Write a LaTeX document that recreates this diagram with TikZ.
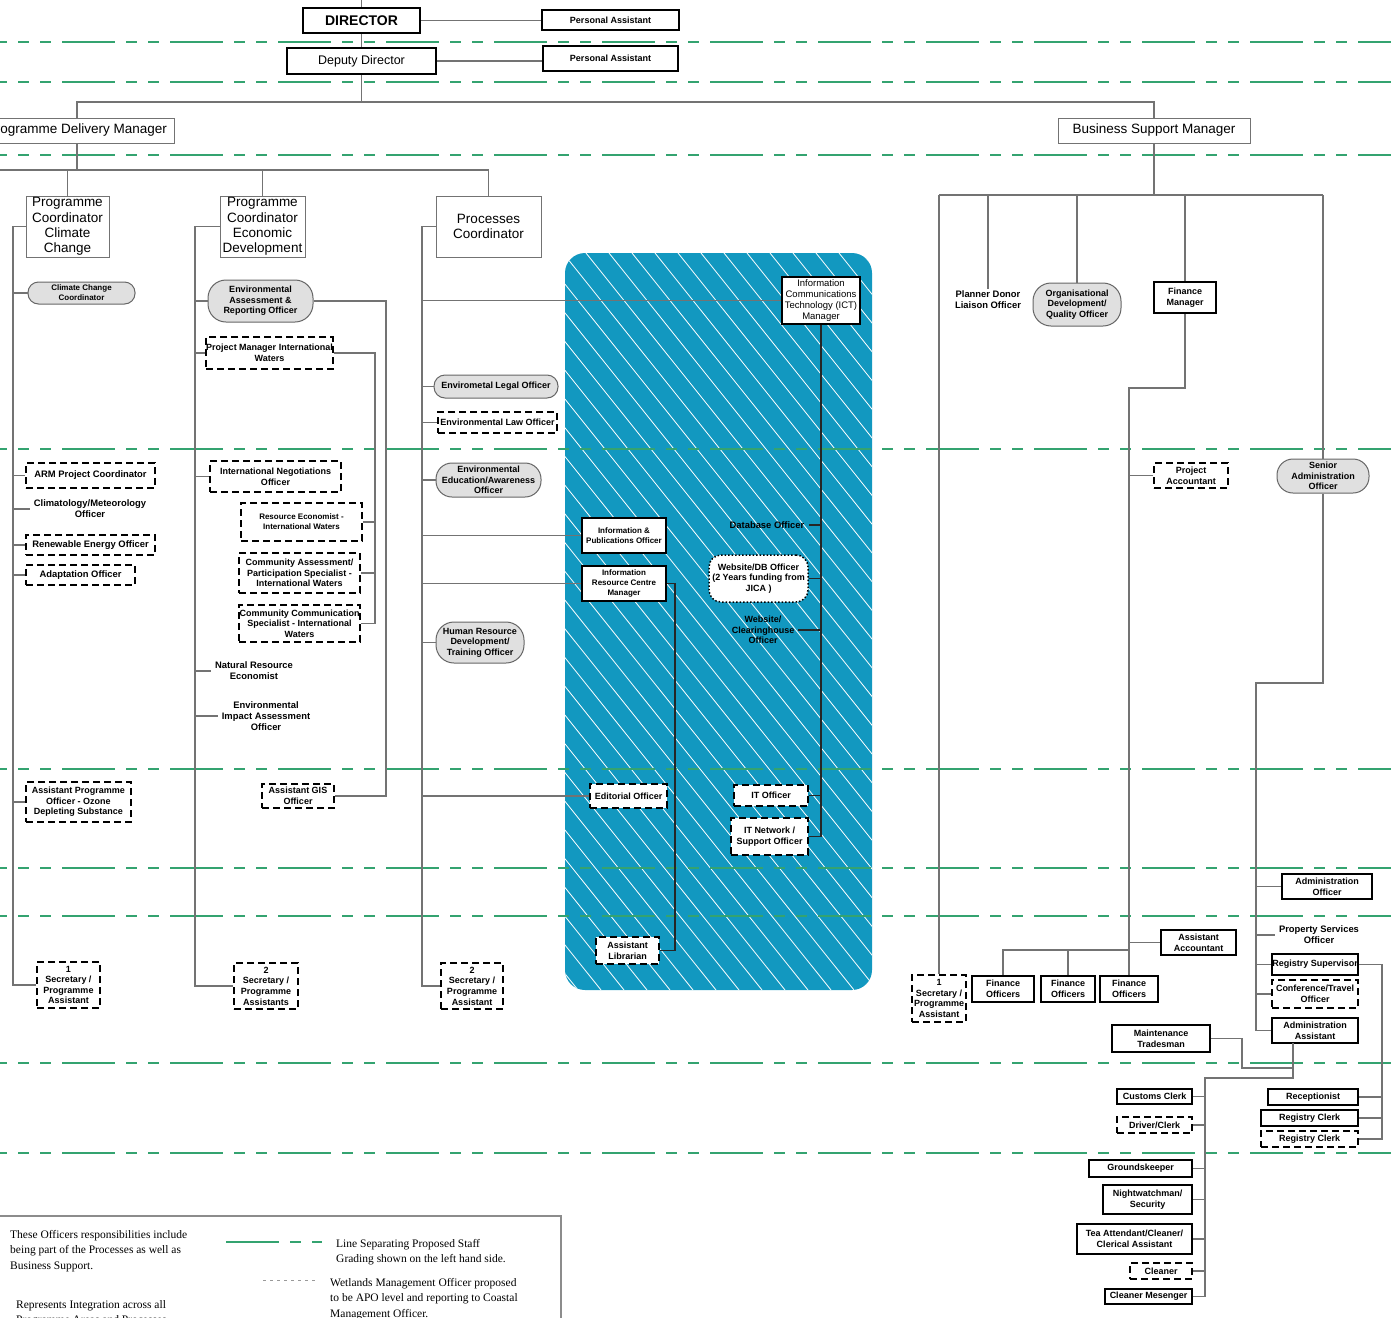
\documentclass[tikz,border=0pt]{standalone}
\usepackage{fontspec}
\setmainfont{Liberation Sans}
\newfontfamily\legfont{Liberation Serif}
\usetikzlibrary{calc}
\definecolor{lgreen}{RGB}{52,163,112}
\definecolor{bluereg}{RGB}{18,152,192}
\begin{document}
\begin{tikzpicture}[x=1pt,y=-1pt,
 conn/.style={draw=black!55, line width=1.1pt},
 connd/.style={draw=black!85, line width=1.1pt},
 gline/.style={draw=lgreen, line width=1.8pt, dash pattern=on 53pt off 11pt on 11pt off 11pt on 11pt off 11pt, dash phase=46pt},
 base/.style={inner sep=0pt, align=center, text=black},
 sz/.style 2 args={minimum width=#1pt, minimum height=#2pt},
 thinbox/.style={base, draw=black!55, line width=1pt, fill=white},
 thickbox/.style={base, draw=black, line width=2.2pt, fill=white},
 dbox/.style={base, draw=black, line width=1.5pt, dash pattern=on 7pt off 4pt, fill=white},
 pill/.style={base, draw=black!60, line width=1pt, fill=black!12, rounded corners=#1},
 pill/.default=10pt,
 dotbox/.style={base, draw=black, line width=1.5pt, dash pattern=on 1.5pt off 2pt, fill=white, rounded corners=12pt},
 plain/.style={base, inner xsep=4pt, inner ysep=2pt},
 fL/.style={font=\fontsize{13.5pt}{15.3pt}\selectfont},
 fR/.style={font=\fontsize{9.5pt}{11pt}\selectfont},
 fM/.style={font=\fontsize{9.4pt}{11pt}\selectfont\bfseries},
 fS/.style={font=\fontsize{9pt}{10.6pt}\selectfont\bfseries},
 fT/.style={font=\fontsize{8pt}{10pt}\selectfont\bfseries},
 fLeg/.style={font=\legfont\fontsize{11.5pt}{15.5pt}\selectfont},
 leg/.style={anchor=north west, inner sep=0pt, align=left, fLeg}
]
\useasboundingbox (0,0) rectangle (1391,1317);
\clip (0,0) rectangle (1391,1317);
\fill[white] (0,0) rectangle (1391,1317);

% blue integration region with hatching
\fill[bluereg, rounded corners=20pt] (565,253) rectangle (872,990);
\begin{scope}
\clip[rounded corners=20pt] (565,253) rectangle (872,990);
\foreach \s in {-600,-577,...,320} \draw[white, line width=0.8pt] ({\s+565},253) -- ++(590,737);
\end{scope}

% green grading lines
\foreach \yy in {42,82,155,449,769,868,916,1063,1153} \draw[gline] (0,\yy) -- (1391,\yy);

% ---------- nodes ----------
\node[thickbox, sz={117}{25}, font=\fontsize{14pt}{16pt}\selectfont\bfseries] (dir) at (361.5,20.5) {DIRECTOR};
\node[thickbox, sz={137}{20}, fS, line width=1.6pt] (pa1) at (610.5,20) {Personal Assistant};
\node[thickbox, sz={149}{26}, font=\fontsize{12.5pt}{14pt}\selectfont] (dep) at (361.5,61) {Deputy Director};
\node[thickbox, sz={135}{25}, fS] (pa2) at (610.5,58.5) {Personal Assistant};
\node[thinbox, sz={194}{25}, fL] (pdm) at (77,130.5) {Programme Delivery Manager};
\node[thinbox, sz={192}{25}, fL] (bsm) at (1154,130.5) {Business Support Manager};
\node[thinbox, sz={83}{61}, fL] (pc1) at (67.5,226.5) {Programme\\Coordinator\\Climate\\Change};
\node[thinbox, sz={85}{61}, fL] (pc2) at (262.5,226.5) {Programme\\Coordinator\\Economic\\Development};
\node[thinbox, sz={105}{61}, fL] (pc3) at (488.5,226.5) {Processes\\Coordinator};

% climate change column
\node[pill=10.5pt, sz={107}{22}, fT] (ccc) at (81.5,293) {Climate Change\\Coordinator};
\node[dbox, sz={129}{25}, fM] (arm) at (90.5,475.5) {ARM Project Coordinator};
\node[plain, fM] (clim) at (90,509) {Climatology/Meteorology\\Officer};
\node[dbox, sz={129}{20}, fM] (ren) at (90.5,545) {Renewable Energy Officer};
\node[dbox, sz={109}{20}, fM] (adap) at (80.5,575) {Adaptation Officer};
\node[dbox, sz={105}{40}, fS] (apo) at (78.5,802) {Assistant Programme\\Officer - Ozone\\Depleting Substance};
\node[dbox, sz={63}{46}, fS] (sec1) at (68.5,985) {1\\Secretary /\\Programme\\Assistant};

% economic development column
\node[pill=18pt, sz={105}{42}, fS] (eaar) at (260.5,301) {Environmental\\Assessment \&\\Reporting Officer};
\node[dbox, sz={125}{32}, fS] (pmiw) at (269.5,353) {Project Manager International\\Waters};
\node[dbox, sz={131}{31}, fS] (ino) at (275.5,476.5) {International Negotiations\\Officer};
\node[dbox, sz={121}{38}, fT] (reiw) at (301.5,522) {Resource Economist -\\International Waters};
\node[dbox, sz={121}{40}, fS] (capi) at (299.5,573) {Community Assessment/\\Participation Specialist -\\International Waters};
\node[dbox, sz={121}{37}, fS] (cciw) at (299.5,623.5) {Community Communication\\Specialist - International\\Waters};
\node[plain, fM] (nre) at (254,671) {Natural Resource\\Economist};
\node[plain, fM] (eiao) at (266,716) {Environmental\\Impact Assessment\\Officer};
\node[dbox, sz={72}{24}, fS] (agis) at (298,796) {Assistant GIS\\Officer};
\node[dbox, sz={64}{46}, fS] (sec2) at (266,986) {2\\Secretary /\\Programme\\Assistants};

% processes column
\node[pill=11pt, sz={124}{23}, fS] (elo) at (496,386.5) {Envirometal Legal Officer};
\node[dbox, sz={119}{21}, fS] (elawo) at (497.5,422.5) {Environmental Law Officer};
\node[pill=16pt, sz={105}{34}, fS] (eeao) at (488.5,480) {Environmental\\Education/Awareness\\Officer};
\node[thickbox, sz={84}{35}, fT] (ipo) at (624,535.5) {Information \&\\Publications Officer};
\node[thickbox, sz={84}{35}, fT] (ircm) at (624,583.5) {Information\\Resource Centre\\Manager};
\node[pill=18pt, sz={88}{41}, fS] (hrdt) at (480,642.5) {Human Resource\\Development/\\Training Officer};
\node[dbox, sz={77}{24}, fS] (edo) at (628.5,796) {Editorial Officer};
\node[dbox, sz={63}{27}, fS] (alib) at (627.5,950.5) {Assistant\\Librarian};
\node[dbox, sz={62}{46}, fS] (sec3) at (472,986) {2\\Secretary /\\Programme\\Assistant};

% ICT group
\node[thickbox, sz={78}{47}, fR] (ict) at (821,300.5) {Information\\Communications\\Technology (ICT)\\Manager};
\node[plain, fM] (dbo) at (767,525) {Database Officer};
\node[dotbox, sz={99}{47}, fS] (wdb) at (758.5,578.5) {Website/DB Officer\\(2 Years funding from\\JICA )};
\node[plain, fS] (wco) at (763,630) {Website/\\Clearinghouse\\Officer};
\node[dbox, sz={74}{21}, fS] (ito) at (771,795.5) {IT Officer};
\node[dbox, sz={77}{37}, fS] (itn) at (769.5,836.5) {IT Network /\\Support Officer};

% business support
\node[plain, fM] (pdlo) at (988,300) {Planner Donor\\Liaison Officer};
\node[pill=18pt, sz={88}{43}, fS] (odqo) at (1077,304.5) {Organisational\\Development/\\Quality Officer};
\node[thickbox, sz={62}{31}, fS] (fm) at (1185,297.5) {Finance\\Manager};
\node[pill=16pt, sz={92}{34}, fS] (sao) at (1323,476) {Senior\\Administration\\Officer};
\node[dbox, sz={54}{47}, fS] (sec4) at (939,998.5) {1\\Secretary /\\Programme\\Assistant};
\node[dbox, sz={74}{25}, fS] (pacc) at (1191,475.5) {Project\\Accountant};
\node[thickbox, sz={75}{25}, fS] (aacc) at (1198.5,942.5) {Assistant\\Accountant};
\node[thickbox, sz={62}{26}, fS] (fo1) at (1003,989) {Finance\\Officers};
\node[thickbox, sz={54}{26}, fS] (fo2) at (1068,989) {Finance\\Officers};
\node[thickbox, sz={58}{26}, fS] (fo3) at (1129,989) {Finance\\Officers};
\node[thickbox, sz={90}{25}, fS] (ao) at (1327,886.5) {Administration\\Officer};
\node[plain, fM] (pso) at (1319,935) {Property Services\\Officer};
\node[thickbox, sz={86}{21}, fS] (rs) at (1315,964.5) {Registry Supervisor};
\node[dbox, sz={86}{28}, fS] (cto) at (1315,994) {Conference/Travel\\Officer};
\node[thickbox, sz={86}{25}, fS] (aa) at (1315,1030.5) {Administration\\Assistant};
\node[thickbox, sz={98}{27}, fS] (mt) at (1161,1038.5) {Maintenance\\Tradesman};
\node[thickbox, sz={75}{15}, fS] (cc) at (1154.5,1096.5) {Customs Clerk};
\node[dbox, sz={75}{16}, fS] (dc) at (1154.5,1125) {Driver/Clerk};
\node[thickbox, sz={103}{17}, fS] (gk) at (1140.5,1168.5) {Groundskeeper};
\node[thickbox, sz={89}{29}, fS] (nws) at (1147.5,1199.5) {Nightwatchman/\\Security};
\node[thickbox, sz={115}{30}, fS] (tea) at (1134.5,1239) {Tea Attendant/Cleaner/\\Clerical Assistant};
\node[dbox, sz={62}{16}, fS] (cln) at (1161,1271) {Cleaner};
\node[thickbox, sz={87}{15}, fS] (cmes) at (1148.5,1296.5) {Cleaner Mesenger};
\node[thickbox, sz={90}{16}, fS] (rec) at (1313,1097) {Receptionist};
\node[thickbox, sz={97}{16}, fS] (rc1) at (1309.5,1118) {Registry Clerk};
\node[dbox, sz={97}{16}, fS] (rc2) at (1309.5,1139) {Registry Clerk};

% ---------- junction coordinates ----------
\coordinate (top) at (361.5,0);
\coordinate (hub) at (361.5,102);
\coordinate (pbar) at (0,170);
\coordinate (pleft) at (-10,170);
\coordinate (bbar) at (0,195);
\coordinate (L1) at (13,0);
\coordinate (L2) at (195,0);
\coordinate (L3) at (422,0);
\coordinate (R2) at (375,0);
\coordinate (R3) at (386,0);
\coordinate (R4) at (675,0);
\coordinate (Fk) at (0,388);
\coordinate (fb) at (0,950);
\coordinate (A1) at (1256,683);
\coordinate (A2) at (1293,1043);
\coordinate (J1) at (1205,1078);
\coordinate (J2) at (1242,1068);
\coordinate (J3) at (1382,0);

% ---------- connectors ----------
\draw[conn] (top) -- (dir.north);
\draw[conn] (dir.south) -- (dep.north);
\draw[conn] (dep.south) -- (hub);
\draw[conn] (dir.east) -- (dir.east -| pa1.west);
\draw[conn] (dep.east) -- (dep.east -| pa2.west);
\draw[conn] (pdm.north) -- (pdm.north |- hub) -- (bsm.north |- hub) -- (bsm.north);
\draw[conn] (pdm.south) -- (pdm.south |- pbar);
\draw[conn] (pleft) -- (pc3.north |- pbar) -- (pc3.north);
\draw[conn] (pc1.north |- pbar) -- (pc1.north);
\draw[conn] (pc2.north |- pbar) -- (pc2.north);

\draw[conn] (pc1.west) -- (L1 |- pc1.west) -- (L1 |- sec1.west) -- (sec1.west);
\foreach \n in {ccc,arm,clim,ren,adap,apo} \draw[conn] (L1 |- \n.west) -- (\n.west);

\draw[conn] (pc2.west) -- (L2 |- pc2.west) -- (L2 |- sec2.west) -- (sec2.west);
\foreach \n in {eaar,pmiw,ino,nre,eiao} \draw[conn] (L2 |- \n.west) -- (\n.west);
\draw[conn] (pmiw.east) -- (R2 |- pmiw.east) -- (R2 |- cciw.east) -- (cciw.east);
\foreach \n in {reiw,capi} \draw[conn] (R2 |- \n.east) -- (\n.east);
\draw[conn] (eaar.east) -- (R3 |- eaar.east) -- (R3 |- agis.east) -- (agis.east);

\draw[conn] (pc3.west) -- (L3 |- pc3.west) -- (L3 |- sec3.west) -- (sec3.west);
\foreach \n in {ict,elo,elawo,eeao,ipo,ircm,hrdt,edo} \draw[conn] (L3 |- \n.west) -- (\n.west);
\draw[connd] (ircm.east) -- (R4 |- ircm.east) -- (R4 |- alib.east) -- (alib.east);
\draw[connd] (ict.south) -- (ict.south |- itn.east) -- (itn.east);
\foreach \n in {dbo,wdb,wco,ito} \draw[connd] (ict.south |- \n.east) -- (\n.east);

\draw[conn] (bsm.south) -- (bsm.south |- bbar);
\draw[conn] (sec4.north |- bbar) -- (sao.north |- bbar);
\draw[conn] (sec4.north |- bbar) -- (sec4.north);
\foreach \n in {pdlo,odqo,fm,sao} \draw[conn] (\n.north |- bbar) -- (\n.north);

\draw[conn] (fm.south) -- (fm.south |- Fk) -- (fo3.north |- Fk) -- (fo3.north);
\foreach \n in {pacc,aacc} \draw[conn] (fo3.north |- \n.west) -- (\n.west);
\draw[conn] (fo1.north) -- (fo1.north |- fb) -- (fo3.north |- fb);
\draw[conn] (fo2.north) -- (fo2.north |- fb);

\draw[conn] (sao.south) -- (sao.south |- A1) -- (A1) -- (A1 |- aa.west) -- (aa.west);
\foreach \n in {ao,pso,rs,cto} \draw[conn] (A1 |- \n.west) -- (\n.west);
\draw[conn] (rs.east) -- (J3 |- rs.east) -- (J3 |- rc2.east) -- (rc2.east);
\foreach \n in {rec,rc1} \draw[conn] (J3 |- \n.east) -- (\n.east);
\draw[conn] (mt.east) -- (J2 |- mt.east) -- (J2) -- (J2 -| A2);
\draw[conn] (A2) -- (A2 |- J1) -- (J1) -- (J1 |- cmes.east) -- (cmes.east);
\foreach \n in {cc,dc,gk,nws,tea,cln} \draw[conn] (J1 |- \n.east) -- (\n.east);

% ---------- legend ----------
\draw[black!45, line width=1.2pt] (-5,1216) rectangle (561,1340);
\node[leg] (lg1) at (10,1230) {These Officers responsibilities include\\being part of the Processes as well as\\Business Support.};
\node[leg] (lg2) at (336,1239) {Line Separating Proposed Staff\\Grading shown on the left hand side.};
\node[leg] (lg3) at (330,1278) {Wetlands Management Officer proposed\\to be APO level and reporting to Coastal\\Management Officer.};
\node[leg] (lg4) at (16,1300) {Represents Integration across all\\Programme Areas and Processes};
\draw[gline, dash phase=0pt] (226,1242) -- (322,1242);
\draw[black!40, line width=1pt, dash pattern=on 3pt off 4pt] (263,1280) -- (318,1280);
\end{tikzpicture}
\end{document}
